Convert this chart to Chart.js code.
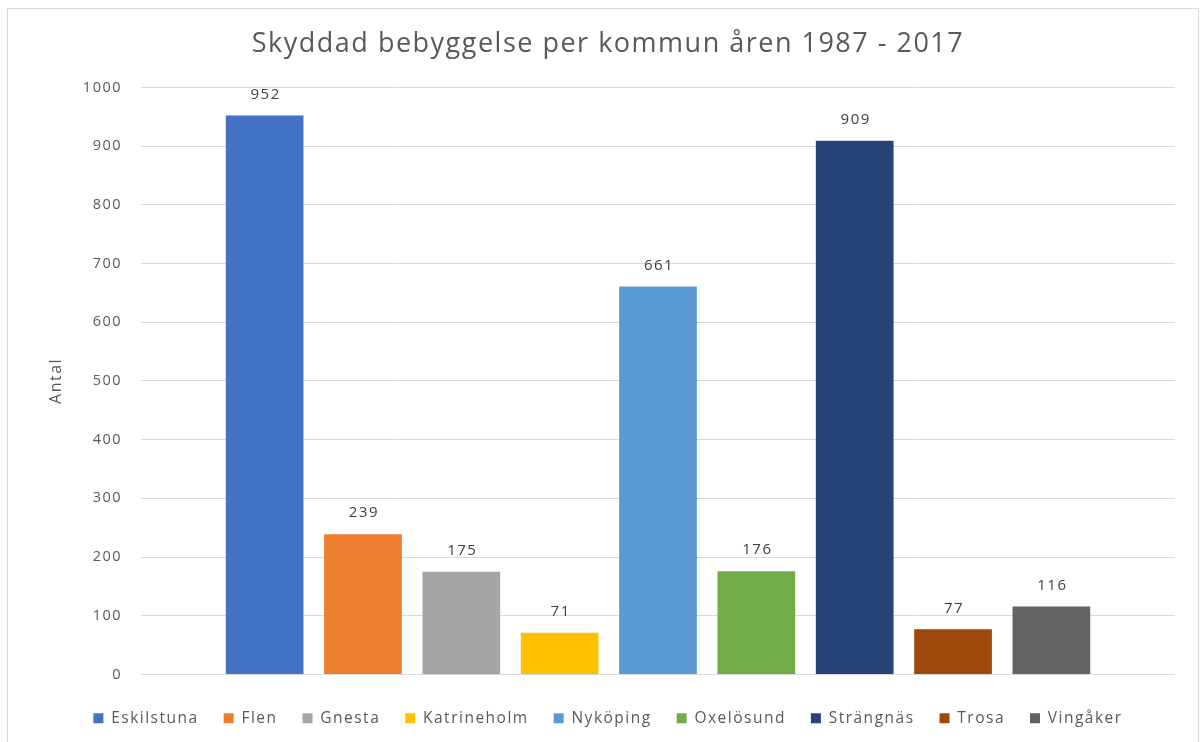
<!DOCTYPE html>
<html>
<head>
<meta charset="utf-8">
<script src="https://cdn.jsdelivr.net/npm/chart.js@4.4.0/dist/chart.umd.min.js"></script>
<style>
  html, body { margin: 0; padding: 0; background: #fff; overflow: hidden; }
  #frame { position: absolute; left: 7px; top: 8px; width: 1190px; height: 740px; border: 1px solid #d9d9d9; border-bottom: none; }
  #wrap { position: absolute; left: 0; top: 0; width: 1203px; height: 742px; }
</style>
</head>
<body>
<div id="frame"></div>
<div id="wrap"><canvas id="c"></canvas></div>
<script>
const titleText = 'Skyddad bebyggelse per kommun åren 1987 - 2017';
const yAxisTitle = 'Antal';
const kommuner = ['Eskilstuna', 'Flen', 'Gnesta', 'Katrineholm', 'Nyköping', 'Oxelösund', 'Strängnäs', 'Trosa', 'Vingåker'];
const antal = [952, 239, 175, 71, 661, 176, 909, 77, 116];
const colors = ['#4472C4', '#ED7D31', '#A5A5A5', '#FFC000', '#5B9BD5', '#70AD47', '#264478', '#9E480E', '#636363'];
const yMin = 0, yMax = 1000, yStep = 100;

const FONT = '"Open Sans", "Noto Sans", sans-serif';
const TEXT = '#595959';
const SPACING = '1.5px';

const spacingPlugin = {
  id: 'spacing',
  beforeUpdate(chart) { chart.ctx.letterSpacing = SPACING; },
  beforeLayout(chart) { chart.ctx.letterSpacing = SPACING; },
  beforeDraw(chart) { chart.ctx.letterSpacing = SPACING; }
};

const valueLabels = {
  id: 'valueLabels',
  afterDatasetsDraw(chart) {
    const ctx = chart.ctx;
    ctx.save();
    ctx.letterSpacing = SPACING;
    ctx.font = '15px ' + FONT;
    ctx.fillStyle = '#404040';
    ctx.textAlign = 'center';
    ctx.textBaseline = 'middle';
    chart.data.datasets.forEach((ds, i) => {
      const meta = chart.getDatasetMeta(i);
      if (meta.hidden) return;
      meta.data.forEach((bar, j) => {
        ctx.fillText(String(ds.data[j]), bar.x + 1, bar.y - 21);
      });
    });
    ctx.restore();
  }
};

const datasets = kommuner.map((k, i) => ({
  label: k,
  data: [antal[i]],
  backgroundColor: colors[i],
  borderWidth: 0,
  categoryPercentage: 0.856,
  barPercentage: 0.79
}));

new Chart(document.getElementById('c'), {
  type: 'bar',
  data: { labels: [''], datasets },
  options: {
    responsive: true,
    maintainAspectRatio: false,
    animation: false,
    layout: { padding: { left: 13, right: 0, top: 0, bottom: 6 } },
    plugins: {
      title: {
        display: true,
        text: titleText,
        color: TEXT,
        font: { family: FONT, size: 27, weight: 'normal' },
        padding: { top: 28, bottom: 27 }
      },
      legend: {
        position: 'bottom',
        labels: {
          color: TEXT,
          font: { family: FONT, size: 15.5 },
          boxWidth: 10,
          boxHeight: 10,
          padding: 25
        }
      },
      tooltip: { enabled: false }
    },
    scales: {
      x: {
        ticks: { display: false },
        grid: { display: false, drawTicks: false },
        border: { display: false },
        afterFit(scale) { scale.height = 11; }
      },
      y: {
        min: yMin, max: yMax,
        ticks: { stepSize: yStep, color: TEXT, font: { family: FONT, size: 14.5 }, padding: 19,
                 callback: (v) => String(v) },
        grid: { color: '#d9d9d9', lineWidth: 1, drawTicks: false },
        border: { display: false },
        title: {
          display: true, text: yAxisTitle, color: TEXT,
          font: { family: FONT, size: 16 },
          padding: { top: 34, bottom: 0 }
        },
        afterFit(scale) { scale.width = 128; }
      },
      yRight: {
        position: 'right',
        min: yMin, max: yMax,
        ticks: { display: false },
        grid: { display: false, drawTicks: false },
        border: { display: false },
        afterFit(scale) { scale.width = 28; }
      }
    }
  },
  plugins: [spacingPlugin, valueLabels]
});
</script>
</body>
</html>
